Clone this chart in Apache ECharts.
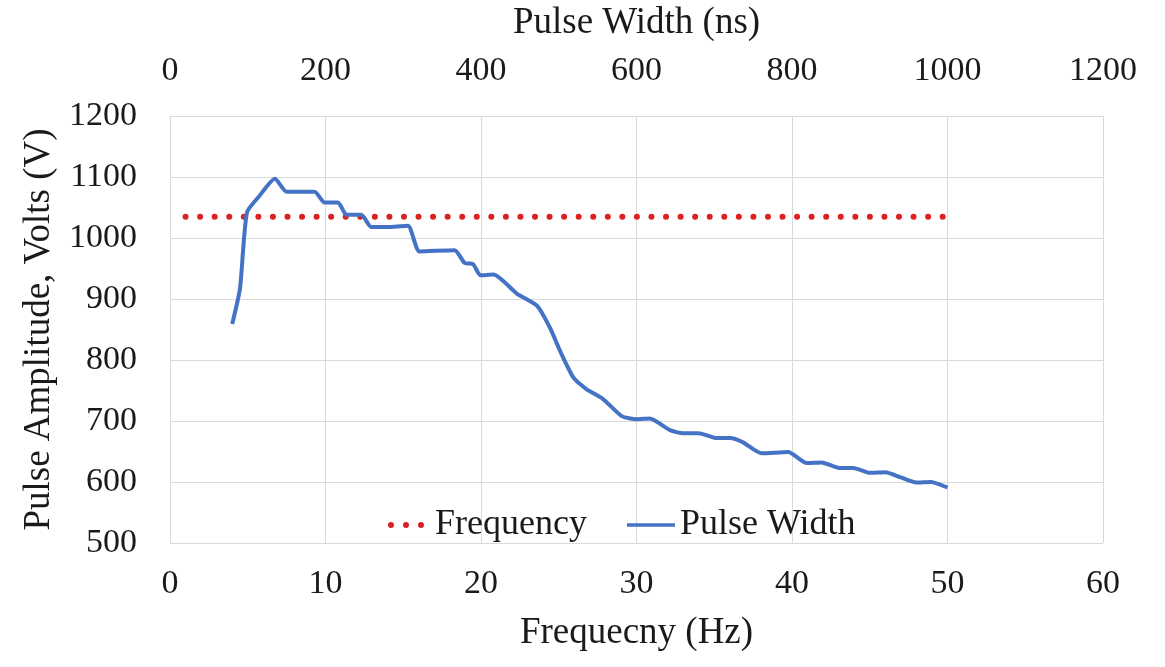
<!DOCTYPE html>
<html>
<head>
<meta charset="utf-8">
<script src="https://cdn.jsdelivr.net/npm/echarts@6/dist/echarts.min.js"></script>
<style>
html,body{margin:0;padding:0;background:#fff;}
#chart{width:1165px;height:667px;}
</style>
</head>
<body>
<div id="chart"></div>
<script>
// Frequency series (bottom axis, Hz)
const freqHz = [1, 50];
const freqVolts = [1035, 1035];

// Pulse Width series (top axis, ns)
const pulseNs = [80, 90, 99, 115, 135, 150, 186, 199, 216, 227, 246, 259, 283, 306, 321, 366, 379, 390, 399, 416, 446, 472, 489, 502, 519, 536, 557, 581, 600, 617, 643, 660, 680, 703, 720, 737, 761, 795, 819, 838, 861, 879, 900, 920, 939, 960, 978, 1000];
const pulseVolts = [859, 917, 1042, 1069, 1097, 1076, 1076, 1058, 1058, 1038, 1038, 1018, 1018, 1020, 978, 980, 959, 957, 939, 940, 909, 889, 852, 814, 771, 752, 736, 708, 703, 704, 685, 680, 680, 672, 672, 665, 647, 649, 631, 632, 623, 623, 615, 616, 608, 599, 600, 591];

const seriesNames = ['Frequency', 'Pulse Width'];
const axisTitles = { bottom: 'Frequecny (Hz)', top: 'Pulse Width (ns)', left: 'Pulse Amplitude, Volts (V)' };

const FONT = '"Liberation Serif", "Times New Roman", serif';
const TXT = '#1a1a1a';
const GRID = '#d9d9d9';
const RED = '#dd1f1f';
const BLUE = '#4472C4';
const plain = v => String(v);

const dotsIcon = 'path://M3,0A3,3,0,1,1,3,6A3,3,0,1,1,3,0Z M18,0A3,3,0,1,1,18,6A3,3,0,1,1,18,0Z M33,0A3,3,0,1,1,33,6A3,3,0,1,1,33,0Z';
const lineIcon = 'path://M0,0H48V3.5H0Z';

const chart = echarts.init(document.getElementById('chart'));
chart.setOption({
  backgroundColor: '#ffffff',
  animation: false,
  grid: { left: 170, right: 62, top: 113, bottom: 124 },
  legend: {
    left: 383, top: 502,
    itemWidth: 48, itemHeight: 6, itemGap: 40,
    textStyle: { fontFamily: FONT, fontSize: 36, color: TXT },
    data: [
      { name: seriesNames[0], icon: dotsIcon, itemStyle: { color: RED } },
      { name: seriesNames[1], icon: lineIcon, itemStyle: { color: BLUE } }
    ]
  },
  xAxis: [
    {
      type: 'value', position: 'bottom', min: 0, max: 60, interval: 10,
      name: axisTitles.bottom, nameLocation: 'middle', nameGap: 72,
      nameTextStyle: { fontFamily: FONT, fontSize: 37, color: TXT },
      axisLine: { show: false }, axisTick: { show: false },
      axisLabel: { fontFamily: FONT, fontSize: 34, color: TXT, margin: 24, formatter: plain },
      splitLine: { show: true, lineStyle: { color: GRID, width: 1 } }
    },
    {
      type: 'value', position: 'top', min: 0, max: 1200, interval: 200,
      name: axisTitles.top, nameLocation: 'middle', nameGap: 74,
      nameTextStyle: { fontFamily: FONT, fontSize: 37, color: TXT },
      axisLine: { show: false }, axisTick: { show: false },
      axisLabel: { fontFamily: FONT, fontSize: 34, color: TXT, margin: 28, formatter: plain },
      splitLine: { show: false }
    }
  ],
  yAxis: {
    type: 'value', min: 500, max: 1200, interval: 100,
    name: axisTitles.left, nameLocation: 'middle', nameGap: 110,
    nameTextStyle: { fontFamily: FONT, fontSize: 37, color: TXT },
    axisLine: { show: false }, axisTick: { show: false },
    axisLabel: { fontFamily: FONT, fontSize: 34, color: TXT, margin: 33, formatter: plain },
    splitLine: { show: true, lineStyle: { color: GRID, width: 1 } }
  },
  series: [
    {
      name: seriesNames[0], type: 'line', xAxisIndex: 0,
      data: freqHz.map((x, i) => [x, freqVolts[i]]),
      symbol: 'none', itemStyle: { color: RED },
      lineStyle: { color: RED, width: 6, type: [0.01, 14.55], cap: 'round' }
    },
    {
      name: seriesNames[1], type: 'line', xAxisIndex: 1,
      data: pulseNs.map((x, i) => [x, pulseVolts[i]]),
      symbol: 'none', smooth: 0.2, itemStyle: { color: BLUE },
      lineStyle: { color: BLUE, width: 4 }
    }
  ]
});
</script>
</body>
</html>
